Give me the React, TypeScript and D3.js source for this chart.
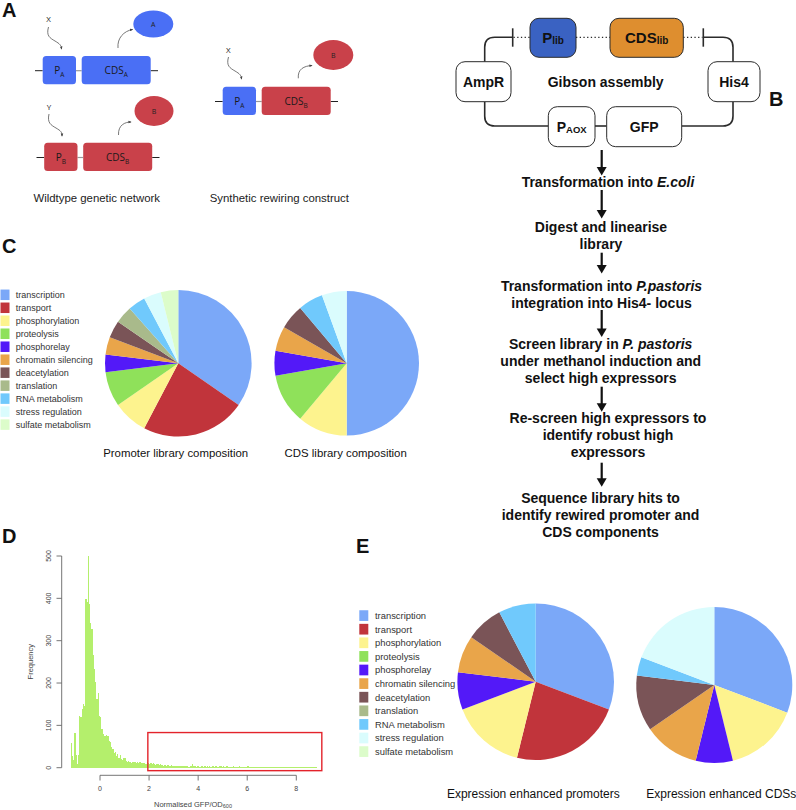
import React from 'react';
import * as d3 from 'd3';

// ---------- DATA ----------
const categories = [
  'transcription', 'transport', 'phosphorylation', 'proteolysis', 'phosphorelay',
  'chromatin silencing', 'deacetylation', 'translation', 'RNA metabolism',
  'stress regulation', 'sulfate metabolism',
];
const categoryColors = [
  '#7ba8f8', '#c1343b', '#fdf38e', '#8fe15a', '#5319f8',
  '#e9a54a', '#7a5457', '#a9ba8b', '#70c9fc', '#dafcfd', '#dcfcca',
];
const promoterLibrary = [9, 6, 2, 2, 1, 1, 1, 1, 1, 1, 1];
const cdsLibrary = [9, 0, 2, 2, 1, 1, 1, 0, 1, 1, 0];
const enhancedPromoters = [4, 3, 2, 0, 1, 1, 1, 0, 1, 0, 0];
const enhancedCDSs = [8, 0, 4, 0, 2, 3, 3, 0, 1, 5, 0];

const histStart = -1.2;
const histBinWidth = 0.05;
const histCounts = [
  59, 28, 18, 82, 30, 8, 30, 122, 120, 138, 150, 145, 398, 392, 499,
  387, 342, 328, 265, 233, 202, 162, 176, 123, 119, 91, 80, 76, 74, 77, 74, 64, 60, 50, 44,
  35, 36, 28, 32, 24, 30, 20, 19, 24, 22, 17, 14, 15, 13, 11, 14, 13, 14, 11, 14, 10, 13, 10, 12,
  11, 12, 9, 13, 10, 9, 11, 8, 10, 9, 7, 8,
  9, 6, 8, 7, 5, 7, 6, 5, 6, 4, 5, 6, 4, 5, 3, 4, 5, 3, 4, 3,
  4, 3, 5, 3, 4, 2, 3, 4, 9, 4, 3, 2, 4, 3, 2, 3, 4, 2, 3, 2,
  3, 2, 4, 2, 3, 5, 2, 3, 2, 2, 3, 4, 2, 3, 2, 2, 3, 2, 2, 1,
  2, 3, 2, 2, 1, 2, 3, 2, 1, 2, 2, 1, 2, 3, 1, 2, 1, 2, 2, 1,
  1, 2, 1, 2, 1, 1, 2, 1, 2, 1, 1, 2, 1, 1, 2, 1, 1, 1, 2, 1,
  1, 1, 2, 1, 1, 1, 1, 2, 1, 1, 1, 1, 2, 1, 1, 1, 1, 1, 1, 1,
  1, 1, 1, 1, 1, 1, 1, 1, 1, 1,
];
const histXTicks = [0, 2, 4, 6, 8];
const histYTicks = [0, 100, 200, 300, 400, 500];
const highlightX = [1.95, 9.04];
const highlightY = [-7, 83];

const flowSteps: { cx: number; lines: { t: string; i?: boolean }[][] }[] = [
  { cx: 608, lines: [[{ t: 'Transformation into ' }, { t: 'E.coli', i: true }]] },
  { cx: 601, lines: [[{ t: 'Digest and linearise' }], [{ t: 'library' }]] },
  { cx: 601.5, lines: [[{ t: 'Transformation into ' }, { t: 'P.pastoris', i: true }], [{ t: 'integration into His4- locus' }]] },
  { cx: 600.7, lines: [[{ t: 'Screen library in ' }, { t: 'P. pastoris', i: true }], [{ t: 'under methanol induction and' }], [{ t: 'select high expressors' }]] },
  { cx: 608, lines: [[{ t: 'Re-screen high expressors to' }], [{ t: 'identify robust high' }], [{ t: 'expressors' }]] },
  { cx: 600.5, lines: [[{ t: 'Sequence library hits to' }], [{ t: 'identify rewired promoter and' }], [{ t: 'CDS components' }]] },
];
const flowFirstBaselines = [186.7, 232.3, 290.7, 349.3, 423.3, 503.3];
const flowArrows = [[150, 175.5], [190, 218.5], [252.7, 273.5], [310, 337], [386.7, 411.7], [462.7, 486.7]];

// ---------- COMPONENTS ----------
const Pie = ({ cx, cy, r, values }: { cx: number; cy: number; r: number; values: number[] }) => {
  const pie = d3.pie<number>().sort(null).value((d) => d)(values);
  const arc = d3.arc<d3.PieArcDatum<number>>().innerRadius(0).outerRadius(r);
  return (
    <g transform={`translate(${cx},${cy})`}>
      {pie.map((p, i) =>
        p.value > 0 ? <path key={i} d={arc(p) || ''} fill={categoryColors[i]} /> : null
      )}
    </g>
  );
};

const Legend = ({ x, y0, step, sw, sh, tx, fs }: { x: number; y0: number; step: number; sw: number; sh: number; tx: number; fs: number }) => (
  <g>
    {categories.map((c, i) => (
      <g key={c}>
        <rect x={x} y={y0 + i * step - sh / 2} width={sw} height={sh} fill={categoryColors[i]} />
        <text x={tx} y={y0 + i * step + fs * 0.36} fontSize={fs} fill="#333" fontFamily="'Liberation Sans', Arial, sans-serif">{c}</text>
      </g>
    ))}
  </g>
);

const BLUE = '#4a6ff5';
const RED = '#c9414a';

const Construct = ({ x0, y, pColor, cdsColor, pSub, cdsSub }: { x0: number; y: number; pColor: string; cdsColor: string; pSub: string; cdsSub: string }) => {
  const px = x0 + 7.7;
  const cx = x0 + 46.7;
  return (
    <g fontFamily="'Open Sans', sans-serif">
      <line x1={x0} x2={px} y1={y} y2={y} stroke="#222" strokeWidth={1} />
      <line x1={px + 33.3} x2={cx} y1={y} y2={y} stroke="#999" strokeWidth={1.2} />
      <line x1={cx + 69} x2={cx + 76.3} y1={y} y2={y} stroke="#222" strokeWidth={1} />
      <rect x={px} y={y - 14.7} width={33.3} height={28.3} rx={3.5} fill={pColor} />
      <rect x={cx} y={y - 14.7} width={69} height={28.3} rx={3.5} fill={cdsColor} />
      <text x={px + 16.6} y={y + 3.5} textAnchor="middle" fontSize={10} fill="#1a1a1a">
        P<tspan fontSize={6.5} dy={2.5}>{pSub}</tspan>
      </text>
      <text x={cx + 34.5} y={y + 3.5} textAnchor="middle" fontSize={10} fill="#1a1a1a">
        CDS<tspan fontSize={6.5} dy={2.5}>{cdsSub}</tspan>
      </text>
    </g>
  );
};

const App = () => {
  const hx = d3.scaleLinear().domain([0, 8]).range([100, 296.3]);
  const hy = d3.scaleLinear().domain([0, 500]).range([767.7, 556]);
  const binPx = hx(histBinWidth) - hx(0);

  const dark = '#2b2b2b';
  const boxFont = "'Liberation Sans', Arial, sans-serif";

  return (
    <svg width={796} height={810} style={{ position: 'absolute', left: 0, top: 0 }} xmlns="http://www.w3.org/2000/svg">
      <defs>
        <marker id="ah" viewBox="0 0 10 10" refX={8} refY={5} markerWidth={4} markerHeight={4} orient="auto">
          <path d="M0,1 L10,5 L0,9 z" fill="#444" />
        </marker>
      </defs>
      <rect width={796} height={810} fill="#fff" />

      {/* Panel letters */}
      <g fontFamily={boxFont} fontWeight="bold" fontSize={20} fill="#111">
        <text x={2} y={17}>A</text>
        <text x={769} y={106}>B</text>
        <text x={2} y={253}>C</text>
        <text x={2} y={543}>D</text>
        <text x={356} y={553}>E</text>
      </g>

      {/* ---------- Panel A ---------- */}
      <Construct x0={35} y={70.7} pColor={BLUE} cdsColor={BLUE} pSub="A" cdsSub="A" />
      <Construct x0={36.5} y={157.5} pColor={RED} cdsColor={RED} pSub="B" cdsSub="B" />
      <Construct x0={215} y={101.5} pColor={BLUE} cdsColor={RED} pSub="A" cdsSub="B" />
      <g fontFamily="'Open Sans', sans-serif" fill="#222">
        <ellipse cx={153.3} cy={24} rx={20} ry={13.5} fill={BLUE} />
        <text x={153.3} y={26.5} textAnchor="middle" fontSize={7}>A</text>
        <ellipse cx={154} cy={111} rx={19.5} ry={15} fill={RED} />
        <text x={154} y={113.5} textAnchor="middle" fontSize={7}>B</text>
        <ellipse cx={333.3} cy={55} rx={20} ry={15} fill={RED} />
        <text x={333.3} y={57.5} textAnchor="middle" fontSize={7}>B</text>

        <text x={48.5} y={22} textAnchor="middle" fontSize={8}>X</text>
        <text x={49} y={110} textAnchor="middle" fontSize={8}>Y</text>
        <text x={228.3} y={53} textAnchor="middle" fontSize={8}>X</text>
      </g>
      <g fill="none" stroke="#555" strokeWidth={0.8}>
        <path d="M48.5,27 C46,36 50,38 55,41 C60,44 61,45 61.5,49" markerEnd="url(#ah)" />
        <path d="M49,114 C47,123 51,125 56,128 C61,131 62,132 62,136" markerEnd="url(#ah)" />
        <path d="M228.5,57 C226,66 230,68 235,71 C240,74 241,75 241.5,79" markerEnd="url(#ah)" />
        <path d="M118,48 C117,38 124,31 132.5,29.5" markerEnd="url(#ah)" />
        <path d="M118.5,135 C118,125 125,122 131,122" markerEnd="url(#ah)" />
        <path d="M298.3,78.3 C297.5,69 304,66 312,65.5" markerEnd="url(#ah)" />
      </g>
      <g fontFamily="'Liberation Sans', Arial, sans-serif" fontSize={11.4} fill="#222" textAnchor="middle">
        <text x={96.7} y={201.5}>Wildtype genetic network</text>
        <text x={279.3} y={201.5}>Synthetic rewiring construct</text>
      </g>

      {/* ---------- Panel B ---------- */}
      <g fill="none" stroke={dark} strokeWidth={1.6}>
        <path d="M512.7,37.3 H494.7 Q484.7,37.3 484.7,47.3 V61.7" />
        <path d="M484.7,101.7 V116 Q484.7,126 494.7,126 H548.3" />
        <path d="M595,126 H606.7" />
        <path d="M681.7,126 H723 Q733,126 733,116 V101.7" />
        <path d="M733,61.7 V47.3 Q733,37.3 723,37.3 H703.3" />
        <line x1={512.7} x2={512.7} y1={28.3} y2={46.7} />
        <line x1={703.3} x2={703.3} y1={28.3} y2={46.7} />
      </g>
      <g fill="none" stroke={dark} strokeWidth={1.3} strokeDasharray="1.3,2.4">
        <path d="M513.5,37.3 H530" />
        <path d="M576,37.3 H610" />
        <path d="M683.3,37.3 H702.5" />
      </g>
      <g stroke={dark} strokeWidth={1}>
        <rect x={530} y={18.3} width={46} height={39} rx={9} fill="#3a62c2" />
        <rect x={610} y={18.3} width={73.3} height={39} rx={9} fill="#de8e2f" />
        <rect x={456} y={61.7} width={55} height={40} rx={9} fill="#fff" />
        <rect x={708} y={61.7} width={52} height={40} rx={9} fill="#fff" />
        <rect x={548.3} y={106.7} width={46.7} height={40} rx={9} fill="#fff" />
        <rect x={606.7} y={106.7} width={75} height={40} rx={9} fill="#fff" />
      </g>
      <g fontFamily={boxFont} fontWeight="bold" fill="#111" textAnchor="middle">
        <text x={553} y={43.3} fontSize={15}>P<tspan fontSize={10} dy={1}>lib</tspan></text>
        <text x={646.7} y={43.3} fontSize={15}>CDS<tspan fontSize={10} dy={1}>lib</tspan></text>
        <text x={483.5} y={87.3} fontSize={14}>AmpR</text>
        <text x={734} y={87.3} fontSize={14}>His4</text>
        <text x={571.7} y={131.7} fontSize={14}>P<tspan fontSize={9.5} dy={1}>AOX</tspan></text>
        <text x={644.2} y={131.7} fontSize={14}>GFP</text>
        <text x={605.7} y={87.3} fontSize={14}>Gibson assembly</text>
      </g>
      <g>
        {flowArrows.map(([a, b], i) => (
          <g key={i}>
            <line x1={601.7} x2={601.7} y1={a} y2={b - 7} stroke="#111" strokeWidth={2.2} />
            <polygon points={`${596.7},${b - 8.5} ${606.7},${b - 8.5} ${601.7},${b}`} fill="#111" />
          </g>
        ))}
      </g>
      <g fontFamily={boxFont} fontWeight="bold" fontSize={14} fill="#111" textAnchor="middle">
        {flowSteps.map((s, i) =>
          s.lines.map((ln, j) => (
            <text key={`${i}-${j}`} x={s.cx} y={flowFirstBaselines[i] + j * 16.8}>
              {ln.map((p, k) => (
                <tspan key={k} fontStyle={p.i ? 'italic' : 'normal'}>{p.t}</tspan>
              ))}
            </text>
          ))
        )}
      </g>

      {/* ---------- Panel C ---------- */}
      <Legend x={0.5} y0={294.8} step={12.98} sw={9} sh={10.5} tx={15.7} fs={9} />
      <Pie cx={178.3} cy={363.3} r={73.3} values={promoterLibrary} />
      <Pie cx={346.7} cy={363.3} r={72.3} values={cdsLibrary} />
      <g fontFamily="'Liberation Sans', Arial, sans-serif" fontSize={11.4} fill="#111" textAnchor="middle">
        <text x={175.7} y={457}>Promoter library composition</text>
        <text x={345.7} y={457}>CDS library composition</text>
      </g>

      {/* ---------- Panel D ---------- */}
      <g shapeRendering="crispEdges">
        {histCounts.map((c, i) => {
          const x0 = hx(histStart + i * histBinWidth);
          return (
            <rect key={i} x={x0} y={hy(c)} width={binPx + 0.05} height={hy(0) - hy(c)} fill="#b4ef6c" />
          );
        })}
      </g>
      <g stroke="#666" strokeWidth={0.9} fill="none">
        <line x1={61.7} x2={61.7} y1={hy(0)} y2={hy(500)} />
        {histYTicks.map((t) => (
          <line key={t} x1={56.5} x2={61.7} y1={hy(t)} y2={hy(t)} />
        ))}
        <line x1={hx(0)} x2={hx(8)} y1={775.3} y2={775.3} />
        {histXTicks.map((t) => (
          <line key={t} x1={hx(t)} x2={hx(t)} y1={775.3} y2={780.5} />
        ))}
      </g>
      <g fontFamily="'Liberation Sans', Arial, sans-serif" fontSize={7} fill="#444">
        {histYTicks.map((t) => (
          <text key={t} transform={`translate(50.5,${hy(t)}) rotate(-90)`} textAnchor="middle">{t}</text>
        ))}
        {histXTicks.map((t) => (
          <text key={t} x={hx(t)} y={791} textAnchor="middle">{t}</text>
        ))}
        <text transform="translate(33,661.7) rotate(-90)" textAnchor="middle" fontSize={7.5}>Frequency</text>
        <text x={193} y={806.5} textAnchor="middle" fontSize={7.5}>
          Normalised GFP/OD<tspan fontSize={5.5} dy={1.5}>600</tspan>
        </text>
      </g>
      <rect x={hx(highlightX[0])} y={hy(highlightY[1])} width={hx(highlightX[1]) - hx(highlightX[0])} height={hy(highlightY[0]) - hy(highlightY[1])} fill="none" stroke="#e3232b" strokeWidth={1.4} />

      {/* ---------- Panel E ---------- */}
      <Legend x={359.3} y0={615.6} step={13.6} sw={9} sh={10.7} tx={375} fs={9.4} />
      <Pie cx={535.7} cy={681.7} r={78.3} values={enhancedPromoters} />
      <Pie cx={714.3} cy={685} r={78} values={enhancedCDSs} />
      <g fontFamily="'Liberation Sans', Arial, sans-serif" fontSize={12} fill="#111" textAnchor="middle">
        <text x={533.3} y={797.5}>Expression enhanced promoters</text>
        <text x={721.3} y={797.5}>Expression enhanced CDSs</text>
      </g>
    </svg>
  );
};

export default App;
